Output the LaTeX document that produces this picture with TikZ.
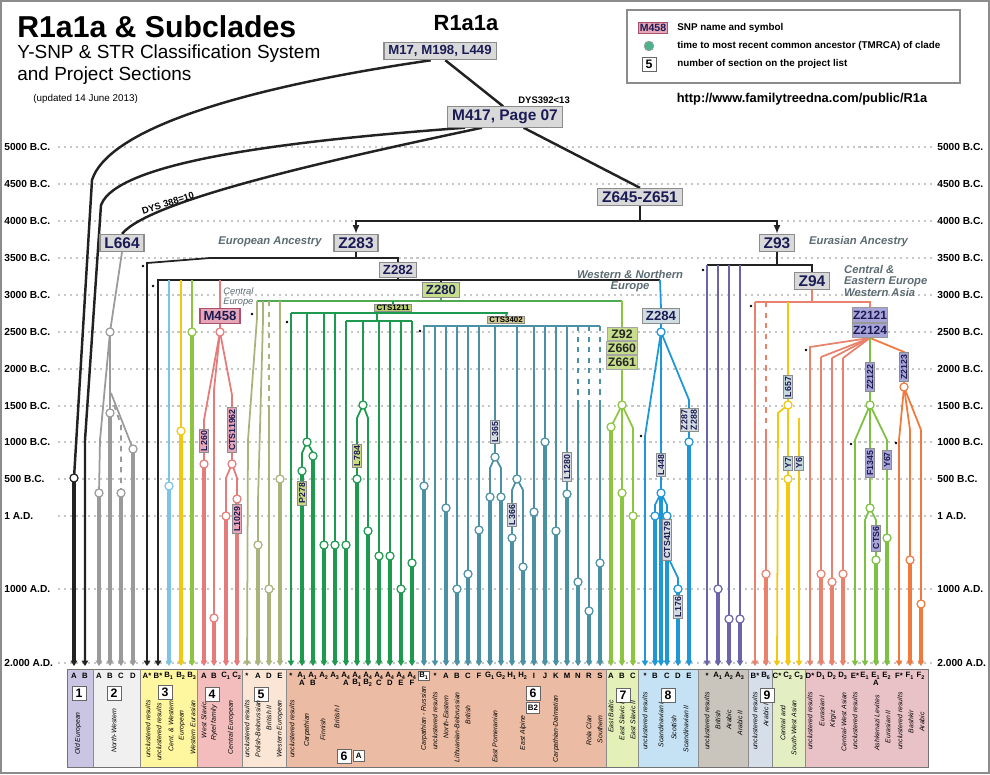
\documentclass[tikz,border=0pt]{standalone}
\usepackage{fontspec}
\setmainfont{Liberation Sans}
\usetikzlibrary{arrows.meta, positioning}

\pgfdeclarelayer{back}
\pgfdeclarelayer{lines}
\pgfsetlayers{back,lines,main}

% line colours
\definecolor{navy}{HTML}{1B1B55}
\definecolor{cblack}{HTML}{222222}
\definecolor{cgrey}{HTML}{9A9A9A}
\definecolor{csky}{HTML}{7CC3E8}
\definecolor{cyel}{HTML}{F2C811}
\definecolor{clime}{HTML}{8CC63F}
\definecolor{cpink}{HTML}{E57B7B}
\definecolor{colive}{HTML}{A9B37A}
\definecolor{czgreen}{HTML}{4DAA50}
\definecolor{cdgreen}{HTML}{1E9A4F}
\definecolor{cteal}{HTML}{4A91A3}
\definecolor{cblue}{HTML}{1D97D5}
\definecolor{cpurple}{HTML}{6C64A8}
\definecolor{csalmon}{HTML}{E8826C}
\definecolor{cgreen}{HTML}{7DC143}
\definecolor{corange}{HTML}{EF7A3C}
\definecolor{cnote}{HTML}{5B6B72}
\definecolor{cdpink}{HTML}{A8506C}
\definecolor{ctmrca}{HTML}{4DB38A}
% section backgrounds
\definecolor{bg1}{HTML}{C9C5E3}
\definecolor{bg2}{HTML}{F0F0F0}
\definecolor{bg3}{HTML}{FFF6A0}
\definecolor{bg4}{HTML}{F3BDBD}
\definecolor{bg5}{HTML}{FBE6D6}
\definecolor{bg6}{HTML}{EBBBA3}
\definecolor{bg7}{HTML}{E3F0B8}
\definecolor{bg8}{HTML}{C5E1F4}
\definecolor{bgA}{HTML}{C9C5BD}
\definecolor{bg9}{HTML}{D6DEEA}
\definecolor{bgB}{HTML}{E3EFC2}
\definecolor{bgC}{HTML}{E9C2C8}
% box fills
\definecolor{fgrey}{HTML}{D9D9D9}
\definecolor{fgreen}{HTML}{C6DE8A}
\definecolor{fpink}{HTML}{E7A5B8}
\definecolor{fpurple}{HTML}{A9A4D8}
\definecolor{fblue}{HTML}{CFDDE3}
\definecolor{fgreentag}{HTML}{C9DB7F}
\definecolor{fgreyb}{HTML}{D3DCE0}
\definecolor{fyelt}{HTML}{C5D9DC}
\definecolor{fcts1}{HTML}{B7CD6E}
\definecolor{fcts2}{HTML}{CFC98F}

% leaf with tmrca circle: colour, x, top, tmrca
\newcommand\tleaf[4]{%
  \begin{pgfonlayer}{lines}
  \draw[#1, thn] (#2,#3) -- (#2,#4);
  \draw[#1, thk, endtip] (#2,#4) -- (#2,666);
  \end{pgfonlayer}
  \node[tm=#1] (t#2) at (#2,#4) {};}
% leaf without circle: colour, x, top
\newcommand\tbare[3]{%
  \begin{pgfonlayer}{lines}
  \draw[#1, thn, endtip] (#2,#3) -- (#2,666);
  \end{pgfonlayer}}

\begin{document}
\begin{tikzpicture}[x=0.02cm, y=-0.02cm,
    snp/.style={draw=black!45, fill=fgrey, text=navy, line width=0.6pt,
      font=\bfseries\fontsize{8.8}{9}\selectfont, inner xsep=2.5pt, inner ysep=1.8pt},
    subsnp/.style={snp, font=\bfseries\fontsize{7.5}{8}\selectfont, inner xsep=2pt, inner ysep=1.5pt},
    zbox/.style={draw=black!35, fill=fgreen, text=black!85, line width=0.5pt,
      font=\bfseries\fontsize{7}{7}\selectfont, minimum width=17pt, minimum height=7.6pt, inner sep=0.6pt},
    purp/.style={draw=black!40, fill=fpurple, text=navy, line width=0.5pt,
      font=\bfseries\fontsize{6.8}{7}\selectfont, minimum width=19pt, minimum height=8.2pt, inner sep=0.5pt},
    tag/.style={draw=black!45, fill=#1, text=navy, line width=0.4pt, rotate=90, align=center,
      font=\bfseries\fontsize{5}{5.4}\selectfont, inner xsep=1pt, inner ysep=0.7pt},
    hlabel/.style={draw=black!45, fill=#1, text=black, line width=0.4pt,
      font=\bfseries\fontsize{4.5}{5}\selectfont, inner xsep=1pt, inner ysep=0.5pt},
    tm/.style={circle, draw=#1, fill=white, inner sep=0pt, minimum size=4.6pt, line width=0.7pt},
    thn/.style={line width=1pt},
    thk/.style={line width=2.3pt},
    trunk/.style={cblack, line width=1.4pt},
    endtip/.style={-{Triangle[width=3.6pt,length=3pt]}},
    era/.style={font=\bfseries\fontsize{5.8}{6}\selectfont, anchor=west, inner sep=0pt},
    note/.style={text=cnote, font=\bfseries\itshape\fontsize{6.4}{6.5}\selectfont, align=left},
    colltr/.style={font=\bfseries\fontsize{4.4}{5}\selectfont, inner sep=0.5pt},
    grp/.style={font=\itshape\fontsize{3.9}{4.2}\selectfont, rotate=90, anchor=east, inner sep=0pt},
    secno/.style={draw=black!60, fill=white, font=\bfseries\fontsize{7}{7}\selectfont,
      inner sep=0.8pt, minimum width=8pt, minimum height=8pt},
    stardot/.style={circle, fill=black, inner sep=0pt, minimum size=1.5pt},
    lgtxt/.style={anchor=west, font=\bfseries\fontsize{5.6}{6}\selectfont, inner sep=0pt}
]
\useasboundingbox (0,0) rectangle (990,774);
\draw[black!45, line width=1pt] (1,1) rectangle (989,773);

% time scale
\begin{pgfonlayer}{back}
\foreach \yy/\lab in {147/5000 B.C., 184/4500 B.C., 221/4000 B.C., 258/3500 B.C., 295/3000 B.C.,
    332/2500 B.C., 369/2000 B.C., 406/1500 B.C., 442/1000 B.C., 479/500 B.C., 516/1 A.D.,
    589/1000 A.D., 663/2.000 A.D.} {
  \draw[black!22, line width=0.6pt, dash pattern=on 1.2pt off 2.2pt] (58,\yy) -- (932,\yy);
  \node[era] at (4,\yy) {\lab};
  \node[era] at (937,\yy) {\lab};
}
% project sections
\foreach \xa/\xb/\cc in {67/93/bg1, 93/140/bg2, 140/197/bg3, 197/242/bg4, 242/286/bg5, 286/606/bg6,
    606/638/bg7, 638/698/bg8, 698/748/bgA, 748/772/bg9, 772/805/bgB, 805/928/bgC}
  \fill[\cc] (\xa,669) rectangle (\xb,767);
\end{pgfonlayer}
\draw[black!55, line width=0.5pt] (67,669) rectangle (928,767);
\foreach \xx in {93,140,197,242,286,606,638,698,748,772,805}
  \draw[black!45, line width=0.4pt] (\xx,669) -- (\xx,767);

% titles and legend
\node[anchor=base west, font=\bfseries\fontsize{17.2}{18}\selectfont, inner sep=0pt] (title) at (17,37) {R1a1a \& Subclades};
\node[anchor=base west, font=\fontsize{10.8}{13}\selectfont, inner sep=0pt] (sub1) at (17,58) {Y-SNP \& STR Classification System};
\node[anchor=base west, font=\fontsize{10.8}{13}\selectfont, inner sep=0pt] (sub2) at (17,80) {and Project Sections};
\node[anchor=west, font=\fontsize{5.6}{6}\selectfont, inner sep=0pt] (upd) at (33,99) {(updated 14 June 2013)};
\node[font=\bfseries\fontsize{12.5}{13}\selectfont] (root) at (466,23) {R1a1a};

\draw[black!45, line width=0.6pt] (627,10) rectangle (960,83);
\node[snp, fill=fpink, draw=cdpink, font=\bfseries\fontsize{6}{6}\selectfont, inner sep=1pt] (lgsnp) at (653,28) {M458};
\node[lgtxt] (lg1) at (677,28) {SNP name and symbol};
\node[circle, draw=black!40, fill=ctmrca, minimum size=5.5pt, inner sep=0pt] (lgtm) at (649,46) {};
\node[lgtxt] (lg2) at (677,46) {time to most recent common ancestor (TMRCA) of clade};
\node[secno] (lgsec) at (649,64) {5};
\node[lgtxt] (lg3) at (677,64) {number of section on the project list};
\node[font=\bfseries\fontsize{7.3}{8}\selectfont] (url) at (802,99) {http://www.familytreedna.com/public/R1a};

% SNP boxes
\node[snp, font=\bfseries\fontsize{7.5}{9}\selectfont] (m17) at (440,51) {M17, M198, L449};
\node[snp] (m417) at (505,117) {M417, Page 07};
\node[font=\bfseries\fontsize{5.4}{6}\selectfont, anchor=west, inner sep=0pt] (dys392) at (518,100) {DYS392<13};
\node[snp] (z645) at (640,197) {Z645-Z651};
\node[snp] (z283) at (356,243) {Z283};
\node[snp] (z93) at (777,243) {Z93};
\node[snp] (l664) at (122,243) {L664};
\node[subsnp] (z282) at (398,270) {Z282};
\node[subsnp, fill=fgreen] (z280) at (441,290) {Z280};
\node[snp] (z94) at (812,281) {Z94};
\node[subsnp, fill=fblue] (z284) at (661,316) {Z284};
\node[subsnp, fill=fpink, draw=cdpink] (m458) at (220,316) {M458};
\node[zbox] (z92) at (622,334) {Z92};
\node[zbox, below=0pt of z92] (z660) {Z660};
\node[zbox, below=0pt of z660] (z661) {Z661};
\node[purp] (z2121) at (870,315) {Z2121};
\node[purp, below=0pt of z2121] (z2124) {Z2124};
\node[hlabel=fcts1] (cts1211) at (393,308) {CTS1211};
\node[hlabel=fcts2] (cts3402) at (506,320) {CTS3402};
\node[font=\bfseries\fontsize{5.4}{6}\selectfont, rotate=17] (dys388) at (168,203) {DYS 388=10};

% region notes
\node[note] (eur) at (270,242) {European Ancestry};
\node[note, anchor=west] (eura) at (803,242) {Eurasian Ancestry};
\node[note, anchor=north west] (ceewa) at (838,259) {Central \&\\Eastern Europe\\Western Asia};
\node[note, align=center] (wne) at (630,281) {Western \& Northern\\Europe};
\node[note, font=\itshape\fontsize{5.3}{6}\selectfont, anchor=west, inner sep=0pt] (ceu) at (223,297) {Central\\Europe};

% connectors
\begin{pgfonlayer}{lines}
\draw[trunk] (m17.225) .. controls (260,85) and (110,125) .. (92,180) -- (74,478);
\draw[trunk, endtip] (m417.195) .. controls (300,140) and (118,160) .. (101,205) -- (85,440) -- (85,666);
\draw[trunk] (m417.205) .. controls (330,160) and (150,200) .. (l664.north);
\draw[trunk] (m17.300) -- (m417.100);
\draw[trunk] (m417.330) -- (z645.north);
\draw[trunk] (z645.south) -- (640,221);
\draw[trunk, -{Latex[length=5pt,width=4pt]}] (640,221) -| (z283.north);
\draw[trunk, -{Latex[length=5pt,width=4pt]}] (640,221) -| (z93.north);
% Z283 / Z282
\draw[trunk] (z283.south) -- (356,258);
\draw[cblack, thn, endtip] (z282.north) -- (398,258) -- (210,258) -- (147,263) -- (147,666);
\draw[trunk] (z282.south) -- (398,280);
\draw[cblack, thn, endtip] (660,280) -- (158,280) -- (158,666);
\draw[cblue, thn] (660,280) -- (z284.north);
\draw[cblack, thn] (441,280) -- (z280.north);
\draw[cpink, thn] (220,280) -- (m458.north);
% L664
\draw[cgrey, thn] (l664.south) -- (110,332);
\draw[cgrey, thn] (110,332) -- (100,440) -- (99,493);
\draw[cgrey, thn] (111,393) -- (133,449);
\draw[cgrey, thn, dashed] (114,405) -- (121,425) -- (121,490);
% M458
\draw[cpink, thn] (m458.south) -- (220,332);
\draw[cpink, thn] (220,332) -- (204,420) -- (204,464);
\draw[cpink, thn] (220,332) -- (214,390) -- (214,618);
\draw[cpink, thn] (220,332) -- (232,395) -- (232,464);
\draw[cpink, thn] (232,464) -- (226,478) -- (226,516);
\draw[cpink, thn] (232,464) -- (237,478) -- (237,499);
% Z280
\draw[czgreen, thn] (z280.south) -- (441,301);
\draw[czgreen, thn] (257,301) -- (622,301);
\draw[clime, thn] (622,301) -- (z92.north);
\draw[colive, thn, endtip] (257,301) -- (257,318) -- (248,440) -- (247,666);
\draw[colive, thn] (263,301) -- (263,320) -- (258,500) -- (258,545);
\draw[colive, thn, dashed] (269,301) -- (269,405);
% CTS1211
\draw[cdgreen, thn] (cts1211.north) -- (393,301);
\draw[cdgreen, thn] (291,313) -- (507,313) -- (cts3402.north);
\draw[cdgreen, thn, endtip] (291,313) -- (291,666);
\draw[cdgreen, thn] (307,313) -- (307,442);
\draw[cdgreen, thn] (307,442) -- (302,453) -- (302,471);
\draw[cdgreen, thn] (307,442) -- (313,453) -- (313,456);
\draw[cdgreen, thn] (377,313) -- (377,321);
\draw[cdgreen, thn] (346,321) -- (412,321);
\draw[cdgreen, thn] (363,321) -- (363,405);
\draw[cdgreen, thn] (363,405) -- (357,418) -- (357,479);
\draw[cdgreen, thn] (363,405) -- (368,418) -- (368,531);
% CTS3402
\draw[cteal, thn] (423,326) -- (600,326);
\draw[cteal, thn] (495,326) -- (495,457);
\draw[cteal, thn] (495,457) -- (490,468) -- (490,497);
\draw[cteal, thn] (495,457) -- (501,468) -- (501,497);
\draw[cteal, thn] (517,326) -- (517,479);
\draw[cteal, thn] (517,479) -- (512,490) -- (512,538);
\draw[cteal, thn] (517,479) -- (523,490) -- (523,567);
\foreach \xx in {578,589,600} \draw[cteal, thn, dashed] (\xx,326) -- (\xx,400);
% Z92
\draw[clime, thn] (z661.south) -- (622,405);
\draw[clime, thn] (622,405) -- (611,427);
\draw[clime, thn] (622,405) -- (633,428) -- (633,516);
% Z284
\draw[cblue, thn] (z284.south) -- (661,332);
\draw[cblue, thn, endtip] (661,332) -- (645,436) -- (645,666);
\draw[cblue, thn] (661,332) -- (689,400) -- (689,442);
\draw[cblue, thn] (661,493) -- (655,505) -- (655,516);
\draw[cblue, thn] (661,493) -- (667,505) -- (667,516);
\draw[cblue, thn] (667,555) -- (678,578) -- (678,589);
% Z93 / Z94
\draw[trunk] (z93.south) -- (777,265);
\draw[cblack, thn] (707,265) -- (812,265) -- (z94.north);
\draw[csalmon, thn] (z94.south) -- (812,302);
\draw[csalmon, thn] (755,302) -- (870,302) -- (z2121.north);
\draw[csalmon, thn, dashed] (766,302) -- (766,430);
\draw[cyel, thn] (788,302) -- (788,405);
\draw[cyel, thn, endtip] (788,405) -- (778,413) -- (777,666);
% Z2121
\draw[csalmon, thn, endtip] (z2124.south) -- (810,347) -- (810,666);
\draw[csalmon, thn] (z2124.south) -- (821,357);
\draw[csalmon, thn] (z2124.south) -- (832,358);
\draw[csalmon, thn] (z2124.south) -- (843,358);
\draw[corange, thn] (z2124.south) -- (904,352) -- (904,387);
\draw[corange, thn, endtip] (904,387) -- (899,440) -- (899,666);
\draw[corange, thn] (904,387) -- (910,430);
\draw[corange, thn] (904,387) -- (921,430);
\draw[cgreen, thn] (z2124.south) -- (870,405);
\draw[cgreen, thn, endtip] (870,405) -- (855,440) -- (855,666);
\draw[cgreen, thn] (870,405) -- (870,508);
\draw[cgreen, thn, endtip] (870,508) -- (865,520) -- (865,666);
\draw[cgreen, thn] (870,508) -- (876,520) -- (876,560);
\draw[cgreen, thn] (870,405) -- (887,440) -- (887,538);
\end{pgfonlayer}

% leaves
\tleaf{cblack}{74}{478}{478}
\tleaf{cgrey}{99}{493}{493}
\tleaf{cgrey}{110}{332}{413}
\tleaf{cgrey}{121}{490}{493}
\tleaf{cgrey}{133}{449}{449}
\tleaf{csky}{169}{280}{486}
\tleaf{cyel}{181}{280}{431}
\tleaf{clime}{192}{280}{332}
\tleaf{cpink}{204}{464}{464}
\tleaf{cpink}{214}{618}{618}
\tleaf{cpink}{226}{516}{516}
\tleaf{cpink}{237}{499}{499}
\tleaf{colive}{258}{545}{545}
\tleaf{colive}{269}{405}{589}
\tleaf{colive}{280}{301}{479}
\tleaf{cdgreen}{302}{471}{471}
\tleaf{cdgreen}{313}{456}{456}
\tleaf{cdgreen}{324}{313}{545}
\tleaf{cdgreen}{335}{313}{545}
\tleaf{cdgreen}{346}{321}{545}
\tleaf{cdgreen}{357}{479}{479}
\tleaf{cdgreen}{368}{531}{531}
\tleaf{cdgreen}{379}{321}{556}
\tleaf{cdgreen}{390}{321}{556}
\tleaf{cdgreen}{401}{321}{589}
\tleaf{cdgreen}{412}{321}{563}
\tleaf{cteal}{424}{326}{486}
\tbare{cteal}{435}{326}
\tleaf{cteal}{446}{326}{508}
\tleaf{cteal}{457}{326}{589}
\tleaf{cteal}{468}{326}{574}
\tleaf{cteal}{479}{326}{530}
\tleaf{cteal}{490}{497}{497}
\tleaf{cteal}{501}{497}{497}
\tleaf{cteal}{512}{538}{538}
\tleaf{cteal}{523}{567}{567}
\tleaf{cteal}{534}{326}{512}
\tleaf{cteal}{545}{326}{442}
\tleaf{cteal}{556}{326}{531}
\tleaf{cteal}{567}{326}{494}
\tleaf{cteal}{578}{400}{582}
\tleaf{cteal}{589}{400}{611}
\tleaf{cteal}{600}{400}{563}
\tleaf{clime}{611}{427}{427}
\tleaf{clime}{622}{405}{493}
\tleaf{clime}{633}{516}{516}
\tleaf{cblue}{661}{332}{493}
\tleaf{cblue}{655}{516}{516}
\tleaf{cblue}{667}{516}{516}
\tleaf{cblue}{678}{589}{589}
\tleaf{cblue}{689}{442}{442}
\tbare{cpurple}{707}{265}
\tleaf{cpurple}{718}{265}{589}
\tleaf{cpurple}{729}{265}{619}
\tleaf{cpurple}{740}{265}{619}
\tbare{csalmon}{755}{302}
\tleaf{csalmon}{766}{430}{574}
\tleaf{cyel}{788}{405}{479}
\tbare{cyel}{799}{418}
\tleaf{csalmon}{821}{357}{574}
\tleaf{csalmon}{832}{358}{582}
\tleaf{csalmon}{843}{358}{574}
\tleaf{cgreen}{876}{560}{560}
\tleaf{cgreen}{887}{538}{538}
\tleaf{corange}{910}{430}{560}
\tleaf{corange}{921}{430}{604}

% branch points
\node[tm=cgrey] (b110) at (110,332) {};
\node[tm=cpink] (b220) at (220,332) {};
\node[tm=cpink] (b232) at (232,464) {};
\node[tm=cdgreen] (b307) at (307,442) {};
\node[tm=cdgreen] (b363) at (363,405) {};
\node[tm=cteal] (b495) at (495,457) {};
\node[tm=cteal] (b517) at (517,479) {};
\node[tm=clime] (b622) at (622,405) {};
\node[tm=cblue] (b661) at (661,332) {};
\node[tm=cyel] (b788) at (788,405) {};
\node[tm=cgreen] (b870) at (870,405) {};
\node[tm=cgreen] (b870b) at (870,508) {};
\node[tm=corange] (b904) at (904,387) {};

% SNP tags on branches
\node[tag=fpink] (tgL260) at (204,441) {L260};
\node[tag=fpink] (tgCTS11962) at (232,430) {CTS11962};
\node[tag=fpink] (tgL1029) at (237,519) {L1029};
\node[tag=fgreentag] (tgP278) at (302,493) {P278};
\node[tag=fgreentag] (tgL784) at (357,456) {L784};
\node[tag=fgreyb] (tgL365) at (495,432) {L365};
\node[tag=fgreyb] (tgL366) at (512,515) {L366};
\node[tag=fgreyb] (tgL1280) at (567,467) {L1280};
\node[tag=fgreyb] (tgL448) at (661,465) {L448};
\node[tag=fgreyb] (tgZ287) at (689,420) {Z287\\Z288};
\node[tag=fgreyb] (tgCTS4179) at (667,540) {CTS4179};
\node[tag=fgreyb] (tgL176) at (678,607) {L176};
\node[tag=fyelt] (tgL657) at (788,387) {L657};
\node[tag=fyelt] (tgY7) at (788,463) {Y7};
\node[tag=fyelt] (tgY6) at (799,463) {Y6};
\node[tag=fpurple] (tgZ2122) at (870,377) {Z2122};
\node[tag=fpurple] (tgF1345) at (870,463) {F1345};
\node[tag=fpurple] (tgY67) at (887,460) {Y67};
\node[tag=fpurple] (tgCTS6) at (876,538) {CTS6};
\node[tag=fpurple] (tgZ2123) at (904,367) {Z2123};

% unclustered marks
\foreach \xx/\yy [count=\i] in {143/266, 153/286, 252/314, 287/322, 420/331, 641/436, 703/270,
    751/306, 806/350, 851/444, 896/443}
  \node[stardot] (star\i) at (\xx,\yy) {};

% column letters
\foreach \xx/\tt [count=\i] in {74/A, 85/B, 99/A, 110/B, 121/C, 133/D, 147/A*, 158/B*,
    169/B\textsubscript{1}, 181/B\textsubscript{2}, 192/B\textsubscript{3}, 204/A, 214/B,
    226/C\textsubscript{1}, 237/C\textsubscript{2}, 247/*, 258/A, 269/D, 280/E, 291/*,
    302/A\textsubscript{1}, 313/A\textsubscript{1}, 324/A\textsubscript{2}, 335/A\textsubscript{3},
    346/A\textsubscript{4}, 357/A\textsubscript{4}, 368/A\textsubscript{4}, 379/A\textsubscript{4},
    390/A\textsubscript{4}, 401/A\textsubscript{4}, 412/A\textsubscript{4}, 435/*, 446/A, 457/B,
    468/C, 479/F, 490/G\textsubscript{1}, 501/G\textsubscript{2}, 512/H\textsubscript{1},
    523/H\textsubscript{2}, 534/I, 545/J, 556/K, 567/M, 578/N, 589/R, 600/S, 611/A, 622/B, 633/C,
    645/*, 655/B, 667/C, 678/D, 689/E, 707/*, 718/A\textsubscript{1}, 729/A\textsubscript{2},
    740/A\textsubscript{3}, 755/B*, 766/B\textsubscript{6}, 777/C*, 788/C\textsubscript{2},
    799/C\textsubscript{3}, 810/D*, 821/D\textsubscript{1}, 832/D\textsubscript{2},
    843/D\textsubscript{3}, 855/E*, 865/E\textsubscript{1}, 876/E\textsubscript{1},
    887/E\textsubscript{2}, 899/F*, 910/F\textsubscript{1}, 921/F\textsubscript{2}}
  \node[colltr] (cl\i) at (\xx,676) {\tt};
\foreach \xx/\tt [count=\i] in {302/A, 313/B, 346/A, 357/B\textsubscript{1}, 368/B\textsubscript{2},
    379/C, 390/D, 401/E, 412/F, 876/A}
  \node[colltr] (cm\i) at (\xx,683) {\tt};
\node[colltr, draw=black!60, fill=white] (clB1) at (424,676) {B\textsubscript{1}};

% section numbers
\node[secno] (s1) at (79,693) {1};
\node[secno] (s2) at (114,693) {2};
\node[secno] (s3) at (165,692) {3};
\node[secno] (s4) at (212,694) {4};
\node[secno] (s5) at (261,694) {5};
\node[secno] (s6a) at (344,756) {6};
\node[secno, font=\bfseries\fontsize{4.5}{5}\selectfont, minimum width=6pt, minimum height=6pt,
  right=1pt of s6a] (s6aa) {A};
\node[secno] (s6b) at (533,693) {6};
\node[secno, font=\bfseries\fontsize{4.5}{5}\selectfont, minimum width=6pt, minimum height=6pt,
  below=1pt of s6b] (s6bb) {B2};
\node[secno] (s7) at (623,695) {7};
\node[secno] (s8) at (668,695) {8};
\node[secno] (s9) at (767,695) {9};

% group names
\foreach \xx/\yy/\tt [count=\i] in {78/712/Old European, 114/708/North-Western,
    148/700/unclustered results, 159/703/unclustered results, 171/700/Cent. \& Western,
    182/710/European, 193/700/Western Eurasian, 204/702/West Slavic, 214/705/Rytel family,
    231/700/Central European, 247/700/unclustered results, 258/700/Polish-Belorussian,
    269/705/British II, 280/700/Western European, 292/700/unclustered results,
    307/713/Carpathian, 323/718/Finnish, 337/705/British I, 424/686/Carpathian - Russian,
    435/692/unclustered results, 446/695/North-Eastern, 457/692/Lithuanian-Belorussian,
    468/705/British, 495/710/East Pomeranian, 523/715/East Alpine, 556/695/Carpathian-Dalmatian,
    589/715/Rola Clan, 600/715/Southern, 611/700/East Baltic, 622/702/East Slavic I,
    633/700/East Slavic II, 645/692/unclustered results, 661/702/Scandinavian I,
    674/715/Scottish, 686/705/Scandinavian II, 707/692/unclustered results, 718/710/British,
    729/710/Arabic, 740/710/Arabic II, 755/692/unclustered results, 766/703/Arabic I,
    783/705/Central and, 794/700/South-West Asian, 810/692/unclustered results,
    822/695/Eurasian I, 833/710/Kirgiz, 844/692/Central-West Asian, 855/692/unclustered results,
    877/695/Ashkenazi Levites, 888/710/Eurasian II, 900/692/unclustered results,
    911/710/Bashkir, 922/712/Arabic}
  \node[grp] (g\i) at (\xx,\yy) {\tt};
\end{tikzpicture}
\end{document}
